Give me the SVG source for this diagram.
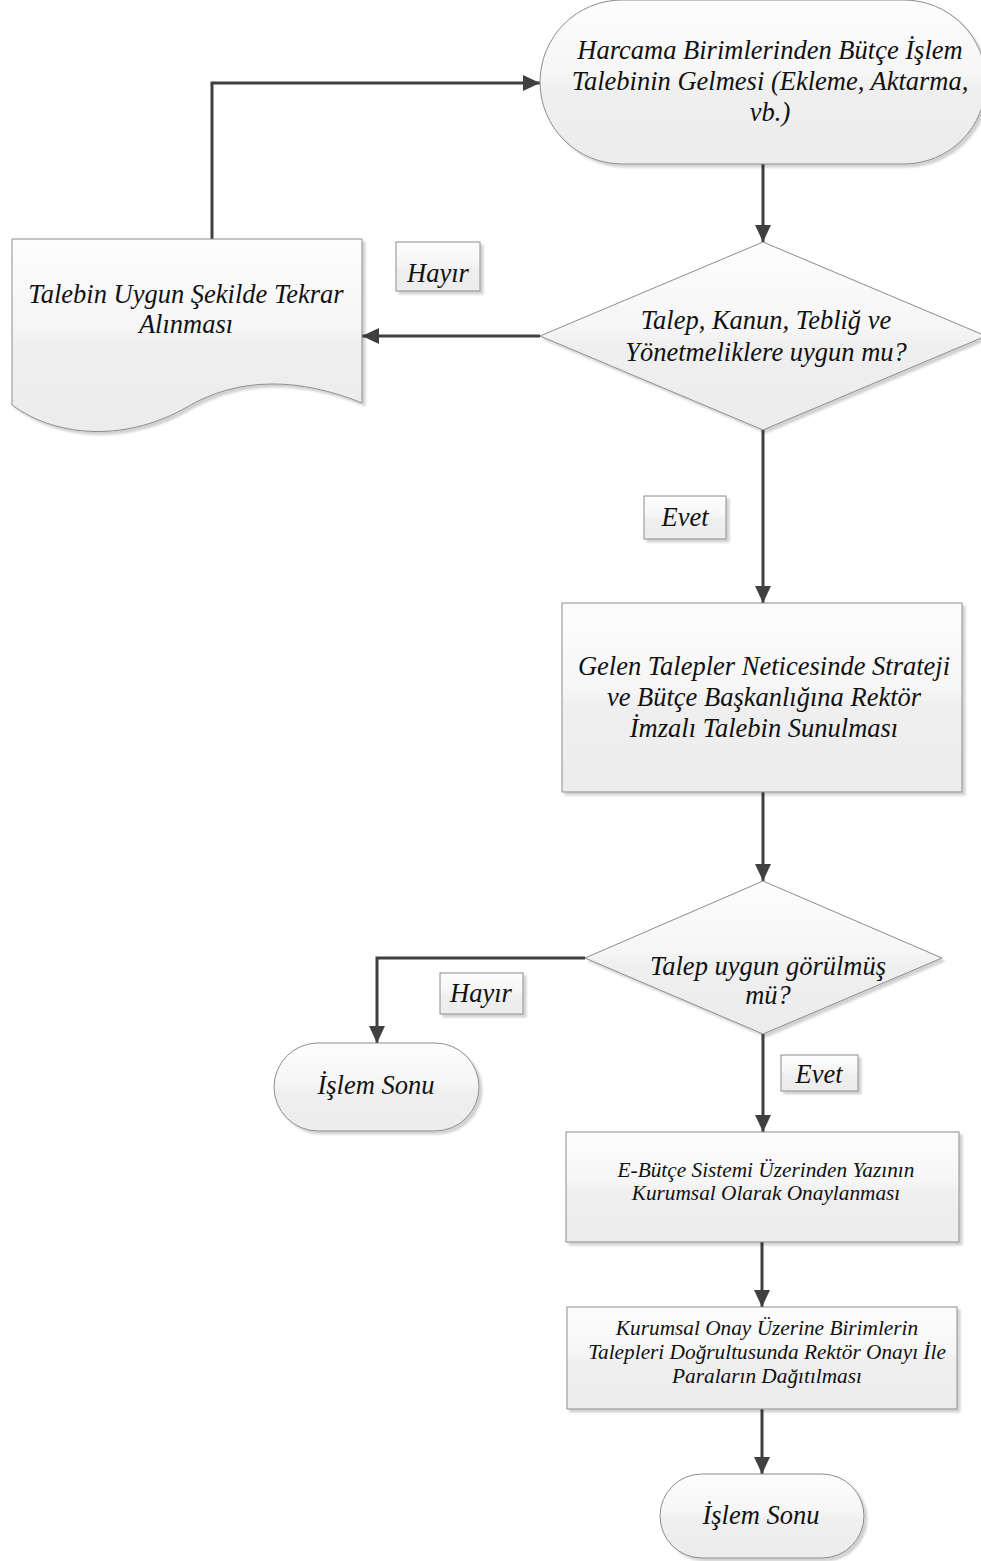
<svg xmlns="http://www.w3.org/2000/svg" width="981" height="1561" viewBox="0 0 981 1561">
<style>
.shape{fill:url(#g);stroke:#8c8c8c;stroke-width:1;filter:url(#sh)}
.lbl{fill:url(#g);stroke:#8c8c8c;stroke-width:1;filter:url(#sh)}
.con{fill:none;stroke:#404040;stroke-width:3;marker-end:url(#ah)}
text{font-family:"Liberation Serif","Times New Roman",serif;font-style:italic;fill:#111;text-anchor:middle}
.t1{font-size:26.5px}
.t2{font-size:21.3px}
</style>
<defs>
<linearGradient id="g" x1="0" y1="0" x2="0" y2="1">
<stop offset="0" stop-color="#fdfdfd"/>
<stop offset="0.45" stop-color="#f6f6f6"/>
<stop offset="0.55" stop-color="#efefef"/>
<stop offset="1" stop-color="#ececec"/>
</linearGradient>
<filter id="sh" x="-5%" y="-5%" width="115%" height="115%">
<feGaussianBlur in="SourceAlpha" stdDeviation="1.2"/>
<feOffset dx="3" dy="3" result="o"/>
<feFlood flood-color="#000" flood-opacity="0.18"/>
<feComposite in2="o" operator="in"/>
<feMerge><feMergeNode/><feMergeNode in="SourceGraphic"/></feMerge>
</filter>
<marker id="ah" markerUnits="userSpaceOnUse" markerWidth="17" markerHeight="16" refX="17" refY="8" orient="auto">
<path d="M0,0 L17,8 L0,16 z" fill="#404040"/>
</marker>
</defs>
<rect width="981" height="1561" fill="#fff"/>

<g id="connectors">
<path class="con" d="M763,164 V242"/>
<path class="con" d="M540,336 H362"/>
<path class="con" d="M212,239 V83 H540"/>
<path class="con" d="M763,430 V603"/>
<path class="con" d="M763,792 V881"/>
<path class="con" d="M585,958 H377 V1043"/>
<path class="con" d="M763,1034 V1132"/>
<path class="con" d="M762,1242 V1307"/>
<path class="con" d="M762,1409 V1474"/>
</g>

<g id="start">
<rect class="shape" x="540" y="0" width="446" height="164" rx="82" ry="82"/>
<text class="t1" x="770" y="59">Harcama Birimlerinden Bütçe İşlem</text>
<text class="t1" x="770" y="90">Talebinin Gelmesi (Ekleme, Aktarma,</text>
<text class="t1" x="770" y="121">vb.)</text>
</g>

<g id="decision1">
<polygon class="shape" points="763,242 986,336 763,430 540,336"/>
<text class="t1" x="766" y="329">Talep, Kanun, Tebliğ ve</text>
<text class="t1" x="766" y="361">Yönetmeliklere uygun mu?</text>
</g>

<g id="document">
<path class="shape" d="M12,239 H362 V403 C300,378 240,376 187,407 C130,440 60,440 12,405 Z"/>
<text class="t1" x="186" y="303">Talebin Uygun Şekilde Tekrar</text>
<text class="t1" x="186" y="333">Alınması</text>
</g>

<g id="label-hayir1">
<rect class="lbl" x="396" y="242" width="84" height="49"/>
<text class="t1" x="438" y="282">Hayır</text>
</g>

<g id="label-evet1">
<rect class="lbl" x="644" y="496" width="82" height="43"/>
<text class="t1" x="685" y="526">Evet</text>
</g>

<g id="process1">
<rect class="shape" x="562" y="603" width="400" height="189"/>
<text class="t1" x="764" y="675">Gelen Talepler Neticesinde Strateji</text>
<text class="t1" x="764" y="706">ve Bütçe Başkanlığına Rektör</text>
<text class="t1" x="764" y="737">İmzalı Talebin Sunulması</text>
</g>

<g id="decision2">
<polygon class="shape" points="763,881 942,958 763,1034 585,958"/>
<text class="t1" x="768" y="975">Talep uygun görülmüş</text>
<text class="t1" x="768" y="1004">mü?</text>
</g>

<g id="label-hayir2">
<rect class="lbl" x="440" y="973" width="83" height="41"/>
<text class="t1" x="481" y="1002">Hayır</text>
</g>

<g id="end1">
<rect class="shape" x="274" y="1043" width="205" height="88" rx="44" ry="44"/>
<text class="t1" x="376" y="1094">İşlem Sonu</text>
</g>

<g id="label-evet2">
<rect class="lbl" x="781" y="1055" width="77" height="36"/>
<text class="t1" x="819" y="1083">Evet</text>
</g>

<g id="process2">
<rect class="shape" x="566" y="1132" width="393" height="110"/>
<text class="t2" x="766" y="1177">E-Bütçe Sistemi Üzerinden Yazının</text>
<text class="t2" x="766" y="1200">Kurumsal Olarak Onaylanması</text>
</g>

<g id="process3">
<rect class="shape" x="567" y="1307" width="390" height="102"/>
<text class="t2" x="767" y="1335">Kurumsal Onay Üzerine Birimlerin</text>
<text class="t2" x="767" y="1359">Talepleri Doğrultusunda Rektör Onayı İle</text>
<text class="t2" x="767" y="1383">Paraların Dağıtılması</text>
</g>

<g id="end2">
<rect class="shape" x="660" y="1474" width="204" height="84" rx="42" ry="42"/>
<text class="t1" x="761" y="1524">İşlem Sonu</text>
</g>
</svg>
